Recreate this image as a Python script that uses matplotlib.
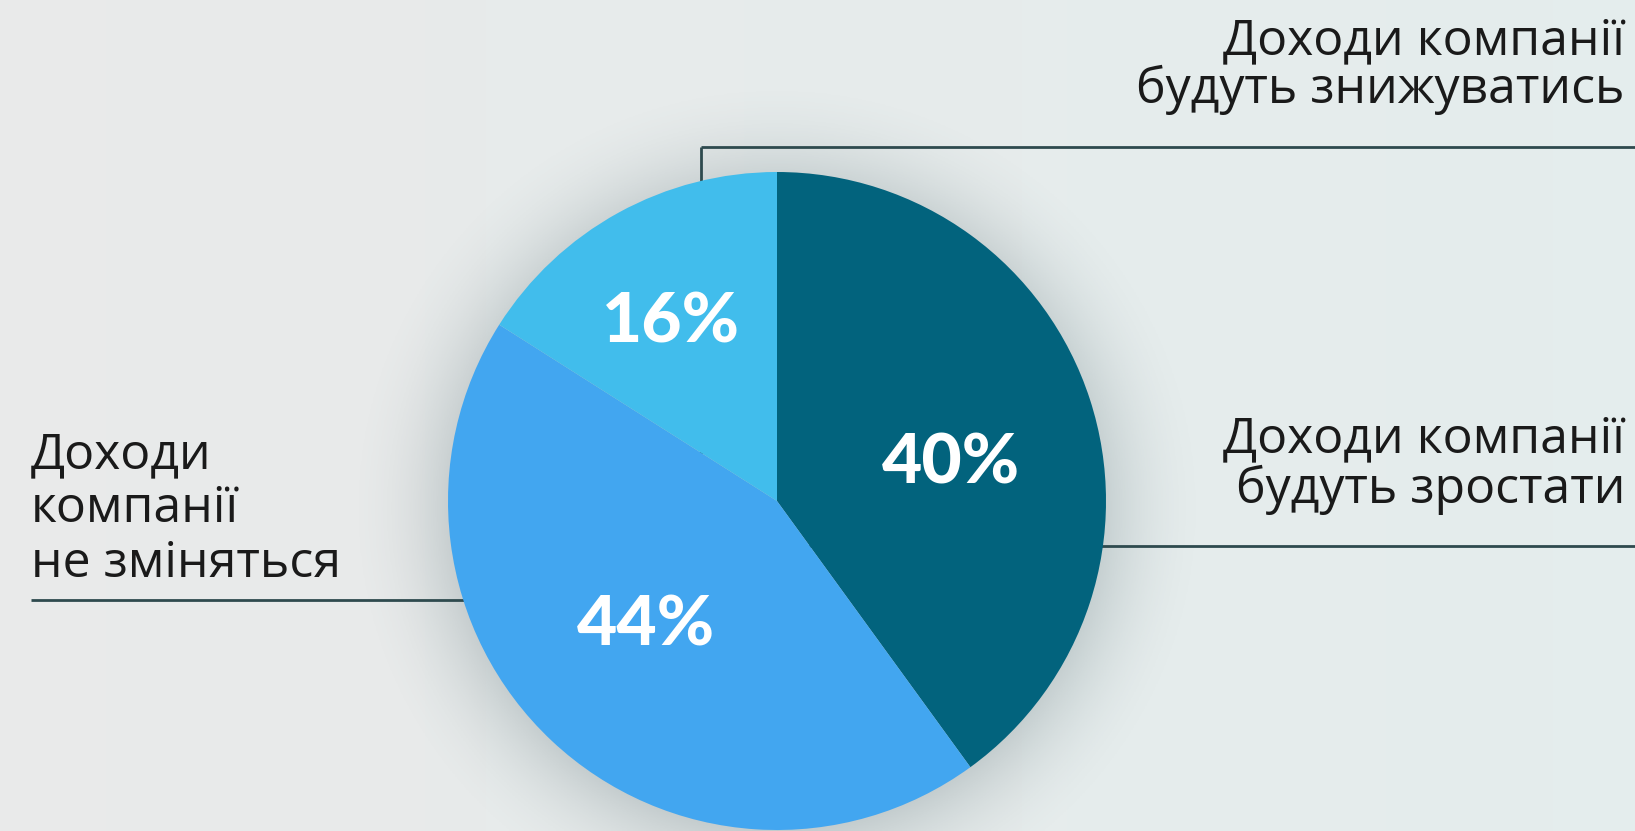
import numpy as np
import matplotlib
matplotlib.use("Agg")
import matplotlib.pyplot as plt

# ---- data ----
shares = [40, 44, 16]
pct_labels = ["40%", "44%", "16%"]
slice_colors = ["#02637D", "#42A6F0", "#41BDEC"]
label_dist = [0.54, 0.55, 0.63]
label_angle_shift = [-6, -3, 2]

top_label = ["Доходи компанії", "будуть знижуватись"]
right_label = ["Доходи компанії", "будуть зростати"]
left_label = ["Доходи", "компанії", "не зміняться"]

W, H = 1635, 831
fig = plt.figure(figsize=(W / 100, H / 100), dpi=100)
ax = fig.add_axes([0, 0, 1, 1])
ax.set_xlim(0, W)
ax.set_ylim(0, H)
ax.axis("off")

cx, cy, R = 777, H - 501, 329

# background gradient
xx, yy = np.meshgrid(np.linspace(0, 1, 400), np.linspace(0, 1, 200))
c1 = np.array([0.915, 0.918, 0.918])
c2 = np.array([0.895, 0.930, 0.930])
bg = c1[None, None, :] * (1 - xx[..., None]) + c2[None, None, :] * xx[..., None]
ax.imshow(bg, extent=[0, W, 0, H], aspect="auto", zorder=0, origin="lower")

# soft shadow around the pie
gx, gy = np.meshgrid(np.linspace(0, W, 600), np.linspace(0, H, 305))
d = np.hypot(gx - cx, gy - (cy - 8))
a = np.clip(1 - (d - R * 0.95) / 120, 0, 1) ** 2 * 0.32
a[d < R * 0.95] = 0.32
sh = np.zeros(gx.shape + (4,))
sh[..., 0] = 0.40
sh[..., 1] = 0.48
sh[..., 2] = 0.50
sh[..., 3] = a
ax.imshow(sh, extent=[0, W, 0, H], aspect="auto", zorder=1, origin="lower")

line_col = "#2E4A4E"
lw = 2.0
# connector lines (drawn beneath the pie)
ax.plot([701, W], [H - 147, H - 147], color=line_col, lw=lw, zorder=2, solid_capstyle="butt")
ax.plot([701, 701], [H - 147, cy], color=line_col, lw=lw, zorder=2, solid_capstyle="butt")
ax.plot([cx, W], [H - 546, H - 546], color=line_col, lw=lw, zorder=2, solid_capstyle="butt")
ax.plot([31, cx], [H - 600, H - 600], color=line_col, lw=lw, zorder=2, solid_capstyle="butt")

wedges, _ = ax.pie(shares, colors=slice_colors, startangle=90, counterclock=False,
                   center=(cx, cy), radius=R, frame=True,
                   wedgeprops=dict(linewidth=0, zorder=3))
for w in wedges:
    w.set_zorder(3)
ax.set_xlim(0, W)
ax.set_ylim(0, H)
ax.set_aspect("equal")
ax.axis("off")

pct_font = dict(family=["Lato", "DejaVu Sans"], fontweight="black", fontsize=50, color="white")
for w, t, dist, sh_a in zip(wedges, pct_labels, label_dist, label_angle_shift):
    ang = np.deg2rad((w.theta1 + w.theta2) / 2 + sh_a)
    ax.text(cx + dist * R * np.cos(ang), cy + dist * R * np.sin(ang), t,
            ha="center", va="center", zorder=5, **pct_font)

txt_font = dict(family=["Open Sans", "DejaVu Sans"], fontweight="normal", fontsize=36, color="#1A1A1A")
for line, yb in zip(top_label, [54, 103]):
    ax.text(1625, H - yb, line, ha="right", va="baseline", zorder=5, **txt_font)
for line, yb in zip(right_label, [452, 503]):
    ax.text(1625, H - yb, line, ha="right", va="baseline", zorder=5, **txt_font)
for line, yb in zip(left_label, [468, 522, 577]):
    ax.text(31, H - yb, line, ha="left", va="baseline", zorder=5, **txt_font)

fig.savefig("out.png", dpi=100)
